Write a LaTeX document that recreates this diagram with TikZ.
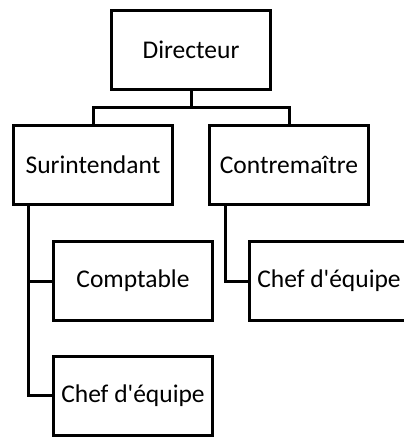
\documentclass[tikz,border=0pt]{standalone}
\usepackage{fontspec}
\setmainfont{Carlito}
\begin{document}
\begin{tikzpicture}[x=1pt,y=-1pt,
  box/.style={draw=black,line width=3pt,fill=white,minimum width=159pt,minimum height=79pt,inner sep=0pt,font=\fontsize{25.5}{28}\selectfont},
  link/.style={draw=black,line width=3pt}]
\useasboundingbox (0,0) rectangle (404,437);
\clip (0,0) rectangle (404,437);
\node[box] (dir) at (191,49.5) {Directeur};
\node[box] (sur) at (93,164.5) {Surintendant};
\node[box] (con) at (289,164.5) {Contremaître};
\node[box] (cpt) at (133,281) {Comptable};
\node[box] (ch1) at (133,395.5) {Chef d\textquotesingle équipe};
\node[box] (ch2) at (329,281) {Chef d\textquotesingle équipe};
\coordinate (j) at (191,107);
\draw[link] (dir.south) -- (j);
\draw[link] (sur.north) |- (j) -| (con.north);
\coordinate (s) at (28,0);
\draw[link] (sur.south -| s) |- (ch1.west);
\draw[link] (s |- cpt.west) -- (cpt.west);
\coordinate (c) at (225,0);
\draw[link] (con.south -| c) |- (ch2.west);
\end{tikzpicture}
\end{document}
